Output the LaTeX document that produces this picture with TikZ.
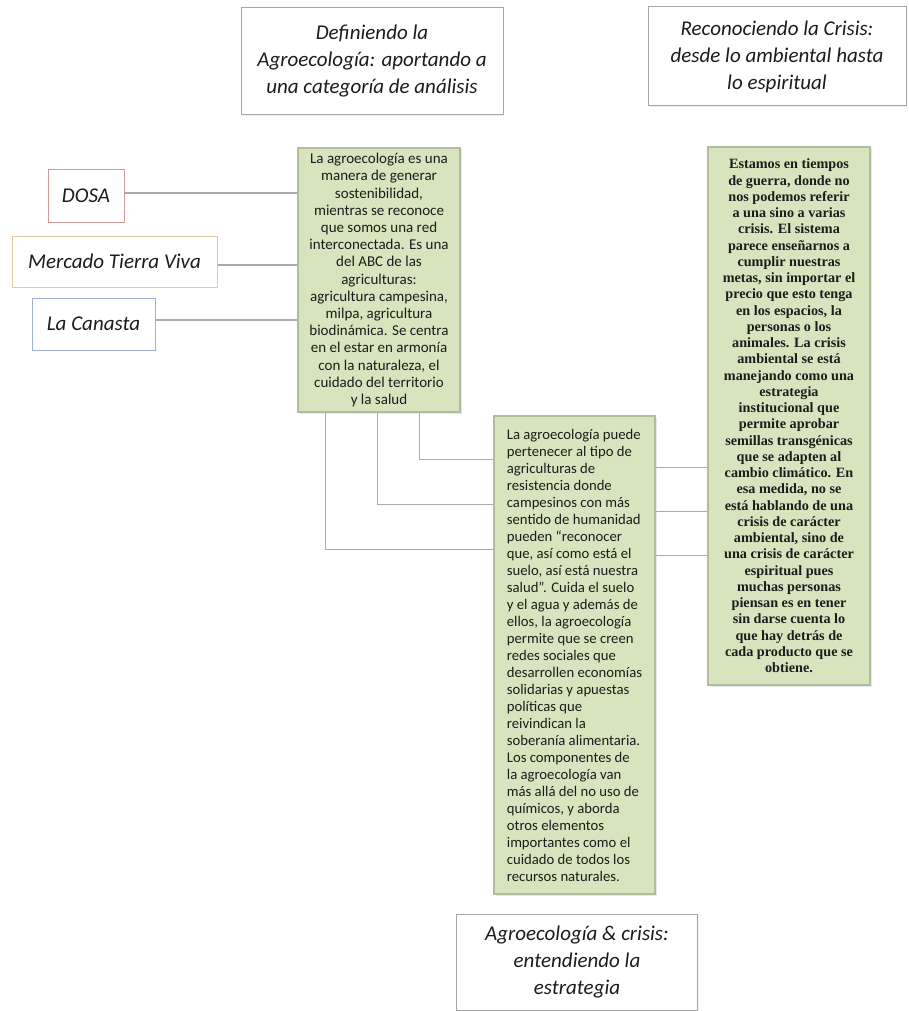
\documentclass[tikz,border=0pt]{standalone}
\usepackage{fontspec}
\setmainfont{Carlito}
\newfontfamily\crisisfont{Liberation Serif}
\usetikzlibrary{calc,shadows}
\definecolor{boxgreen}{HTML}{D8E4BE}
\definecolor{boxedge}{HTML}{B2BC9C}
\definecolor{titleedge}{HTML}{A6A6A6}
\definecolor{linegray}{HTML}{ABABAB}
\definecolor{dosaedge}{HTML}{D49A9A}
\definecolor{mercadoedge}{HTML}{E6C9A8}
\definecolor{canastaedge}{HTML}{9FB0DB}
\definecolor{inktext}{HTML}{1C1C1C}
\begin{document}
\begin{tikzpicture}[x=1pt,y=-1pt,
  greenbox/.style={draw=boxedge, line width=1.2pt, fill=boxgreen, inner sep=0pt, text=inktext,
    drop shadow={opacity=0.18,shadow xshift=1.5pt,shadow yshift=-1.5pt}},
  titlebox/.style={draw=titleedge, line width=1pt, fill=white, align=center, inner sep=0pt,
    font=\fontsize{21}{27}\selectfont\itshape, text=inktext,
    drop shadow={opacity=0.12,shadow xshift=1.2pt,shadow yshift=-1.2pt}},
  labelbox/.style={line width=1pt, fill=white, inner sep=0pt, text=inktext,
    font=\fontsize{21}{27}\selectfont\itshape},
  conn/.style={draw=linegray, line width=1.2pt}
]
\useasboundingbox (0,0) rectangle (909,1011);

% titles
\node[titlebox, minimum width=262pt, minimum height=107pt] (t1) at (372,61.5)
  {Definiendo la\\Agroecología: aportando a\\una categoría de análisis};
\node[titlebox, minimum width=258pt, minimum height=99pt] (t2) at (777,56.5)
  {Reconociendo la Crisis:\\desde lo ambiental hasta\\lo espiritual};
\node[titlebox, minimum width=241pt, minimum height=96pt] (t3) at (577,962)
  {Agroecología \& crisis:\\entendiendo la\\estrategia};

% left labels
\node[labelbox, draw=dosaedge, minimum width=76pt, minimum height=52pt] (dosa) at (86,196) {DOSA};
\node[labelbox, draw=mercadoedge, minimum width=205pt, minimum height=51pt] (mercado) at (114.5,261.5) {Mercado Tierra Viva};
\node[labelbox, draw=canastaedge, minimum width=123pt, minimum height=52pt] (canasta) at (93.5,324) {La Canasta};

% green boxes
\node[greenbox, minimum width=162pt, minimum height=264pt, align=center,
  font=\fontsize{15}{17.2}\selectfont] (b1) at (379,280)
  {La agroecología es una\\manera de generar\\sostenibilidad,\\mientras se reconoce\\que somos una red\\interconectada. Es una\\del ABC de las\\agriculturas:\\agricultura campesina,\\milpa, agricultura\\biodinámica. Se centra\\en el estar en armonía\\con la naturaleza, el\\cuidado del territorio\\y la salud};

\node[greenbox, minimum width=161pt, minimum height=478pt, align=left,
  font=\fontsize{14.7}{17}\selectfont] (b2) at (574.5,655)
  {La agroecología puede\\pertenecer al tipo de\\agriculturas de\\resistencia donde\\campesinos con más\\sentido de humanidad\\pueden “reconocer\\que, así como está el\\suelo, así está nuestra\\salud”. Cuida el suelo\\y el agua y además de\\ellos, la agroecología\\permite que se creen\\redes sociales que\\desarrollen economías\\solidarias y apuestas\\políticas que\\reivindican la\\soberanía alimentaria.\\Los componentes de\\la agroecología van\\más allá del no uso de\\químicos, y aborda\\otros elementos\\importantes como el\\cuidado de todos los\\recursos naturales.};

\node[greenbox, minimum width=162pt, minimum height=538pt, align=center,
  font=\crisisfont\bfseries\fontsize{14.2}{16.25}\selectfont] (rb) at (789,416)
  {Estamos en tiempos\\de guerra, donde no\\nos podemos referir\\a una sino a varias\\crisis. El sistema\\parece enseñarnos a\\cumplir nuestras\\metas, sin importar el\\precio que esto tenga\\en los espacios, la\\personas o los\\animales. La crisis\\ambiental se está\\manejando como una\\estrategia\\institucional que\\permite aprobar\\semillas transgénicas\\que se adapten al\\cambio climático. En\\esa medida, no se\\está hablando de una\\crisis de carácter\\ambiental, sino de\\una crisis de carácter\\espiritual pues\\muchas personas\\piensan es en tener\\sin darse cuenta lo\\que hay detrás de\\cada producto que se\\obtiene.};

% connectors from labels
\coordinate (d1) at ($(dosa.east)+(0,-3)$);
\coordinate (m1) at ($(mercado.east)+(0,3.5)$);
\coordinate (c1) at ($(canasta.east)+(0,-4)$);
\draw[conn] (d1) -- (d1 -| b1.west);
\draw[conn] (m1) -- (m1 -| b1.west);
\draw[conn] (c1) -- (c1 -| b1.west);

% elbow connectors b1 -> b2
\coordinate (e1) at ($(b1.south west)+(28,0)$);
\coordinate (e1h) at ($(b2.north west)+(0,134)$);
\coordinate (e2) at ($(b1.south west)+(80,0)$);
\coordinate (e2h) at ($(b2.north west)+(0,89)$);
\coordinate (e3) at ($(b1.south west)+(122,0)$);
\coordinate (e3h) at ($(b2.north west)+(0,44)$);
\draw[conn] (e1) |- (e1h);
\draw[conn] (e2) |- (e2h);
\draw[conn] (e3) |- (e3h);

% connectors b2 -> rb
\coordinate (r1) at ($(b2.north east)+(0,52)$);
\coordinate (r2) at ($(b2.north east)+(0,96)$);
\coordinate (r3) at ($(b2.north east)+(0,140)$);
\draw[conn] (r1) -- (r1 -| rb.west);
\draw[conn] (r2) -- (r2 -| rb.west);
\draw[conn] (r3) -- (r3 -| rb.west);
\end{tikzpicture}
\end{document}
